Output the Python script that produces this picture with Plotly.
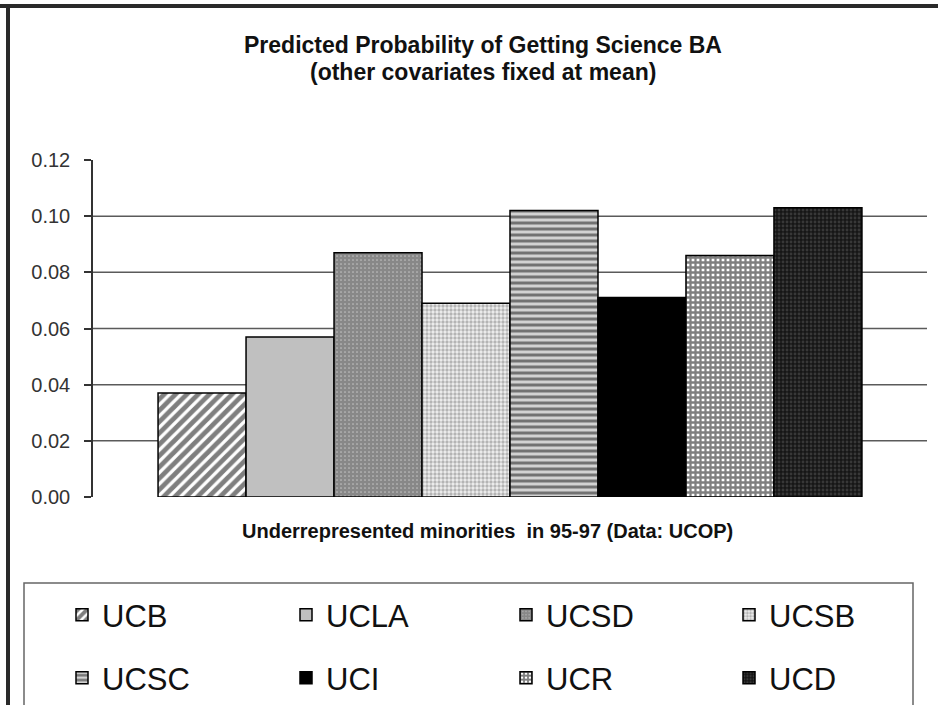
import plotly.graph_objects as go

# ---- data ----
campuses = ["UCB", "UCLA", "UCSD", "UCSB", "UCSC", "UCI", "UCR", "UCD"]
probabilities = [0.037, 0.057, 0.087, 0.069, 0.102, 0.071, 0.086, 0.103]
category = ["Underrepresented minorities in 95-97"]
y_tick_vals = [0.00, 0.02, 0.04, 0.06, 0.08, 0.10, 0.12]
y_tick_text = ["0.00", "0.02", "0.04", "0.06", "0.08", "0.10", "0.12"]
grid_vals = [0.02, 0.04, 0.06, 0.08, 0.10]
title_lines = ["Predicted Probability of Getting Science BA", "(other covariates fixed at mean)"]
x_title = "Underrepresented minorities  in 95-97 (Data: UCOP)"

# ---- styles ----
styles = {
    "UCB":  dict(color="#ffffff", pattern=dict(shape="/", fgcolor="#000000", bgcolor="#ffffff", size=8, solidity=0.6)),
    "UCLA": dict(color="#c0c0c0", pattern=dict(shape="")),
    "UCSD": dict(color="#ffffff", pattern=dict(shape=".", fgcolor="#111111", bgcolor="#ffffff", size=4, solidity=0.85)),
    "UCSB": dict(color="#ffffff", pattern=dict(shape=".", fgcolor="#7a7a7a", bgcolor="#efefef", size=4, solidity=0.55)),
    "UCSC": dict(color="#cfcfcf", pattern=dict(shape="-", fgcolor="#111111", bgcolor="#d2d2d2", size=6, solidity=0.5)),
    "UCI":  dict(color="#000000", pattern=dict(shape="")),
    "UCR":  dict(color="#ffffff", pattern=dict(shape="+", fgcolor="#000000", bgcolor="#ffffff", size=5, solidity=0.7)),
    "UCD":  dict(color="#1a1a1a", pattern=dict(shape=".", fgcolor="#5a5a5a", bgcolor="#161616", size=4, solidity=0.4)),
}

W, H = 938, 705
L, R, T, B = 93, 927, 160, 497

# legend item anchor positions (page pixels): left of legend, vertical centre
legend_pos = [(62, 615), (286, 615), (506, 615), (729, 615),
              (62, 678), (286, 678), (506, 678), (729, 678)]


def px(x):
    return (x - L) / (R - L)


def py(y):
    return (B - y) / (B - T)


FONT = "Liberation Sans, Arial, sans-serif"

fig = go.Figure()
legend_layouts = {}
for i, (name, val) in enumerate(zip(campuses, probabilities)):
    st = styles[name]
    lid = "legend" if i == 0 else "legend%d" % (i + 1)
    fig.add_trace(go.Bar(
        x=category, y=[val], name=name,
        marker=dict(color=st["color"], pattern=st["pattern"],
                    line=dict(color="#000000", width=1.5)),
        legend=lid,
        hoverinfo="name+y",
    ))
    lx, ly = legend_pos[i]
    legend_layouts[lid] = dict(
        xref="container", yref="container", x=lx / W, y=1 - ly / H,
        xanchor="left", yanchor="middle",
        font=dict(family=FONT, size=31, color="#111111"),
        bgcolor="rgba(0,0,0,0)", borderwidth=0,
        itemclick=False, itemdoubleclick=False,
    )

shapes = []
for g in grid_vals:
    shapes.append(dict(type="line", xref="paper", yref="y", x0=0, x1=1, y0=g, y1=g,
                       line=dict(color="#5a5a5a", width=1.5), layer="below"))
# outer frame (top and left)
shapes.append(dict(type="line", xref="paper", yref="paper", x0=px(0), x1=px(W), y0=py(6), y1=py(6),
                   line=dict(color="#2a2a2a", width=4)))
shapes.append(dict(type="line", xref="paper", yref="paper", x0=px(8), x1=px(8), y0=py(4), y1=py(H + 5),
                   line=dict(color="#2a2a2a", width=4)))
# legend box
shapes.append(dict(type="rect", xref="paper", yref="paper", x0=px(24), x1=px(913), y0=py(583), y1=py(H + 20),
                   line=dict(color="#666666", width=1.5), fillcolor="rgba(0,0,0,0)"))

annotations = [
    dict(text="<b>" + title_lines[0] + "</b>", xref="paper", yref="paper", x=px(483), y=py(45),
         showarrow=False, font=dict(family=FONT, size=23, color="#111111"), xanchor="center", yanchor="middle"),
    dict(text="<b>" + title_lines[1] + "</b>", xref="paper", yref="paper", x=px(483), y=py(72),
         showarrow=False, font=dict(family=FONT, size=23, color="#111111"), xanchor="center", yanchor="middle"),
    dict(text="<b>" + x_title + "</b>", xref="paper", yref="paper", x=px(487), y=py(531),
         showarrow=False, font=dict(family=FONT, size=20, color="#111111"), xanchor="center", yanchor="middle"),
]

fig.update_layout(
    width=W, height=H,
    margin=dict(l=L, r=W - R, t=T, b=H - B, autoexpand=False),
    paper_bgcolor="#ffffff", plot_bgcolor="#ffffff",
    barmode="group", bargap=0.156, bargroupgap=0,
    showlegend=True,
    xaxis=dict(showticklabels=False, ticks="", showline=False, showgrid=False, zeroline=False),
    yaxis=dict(range=[0, 0.12], tickvals=y_tick_vals, ticktext=y_tick_text,
               ticks="outside", ticklen=7, tickwidth=1.5, tickcolor="#333333",
               showline=True, linecolor="#333333", linewidth=1.5,
               showgrid=False, zeroline=False, ticklabelstandoff=10,
               tickfont=dict(family=FONT, size=20, color="#333333")),
    shapes=shapes, annotations=annotations,
    **legend_layouts,
)

fig.write_html("out.html", config={"displayModeBar": False},
               post_script="document.body.style.margin='0px';")
